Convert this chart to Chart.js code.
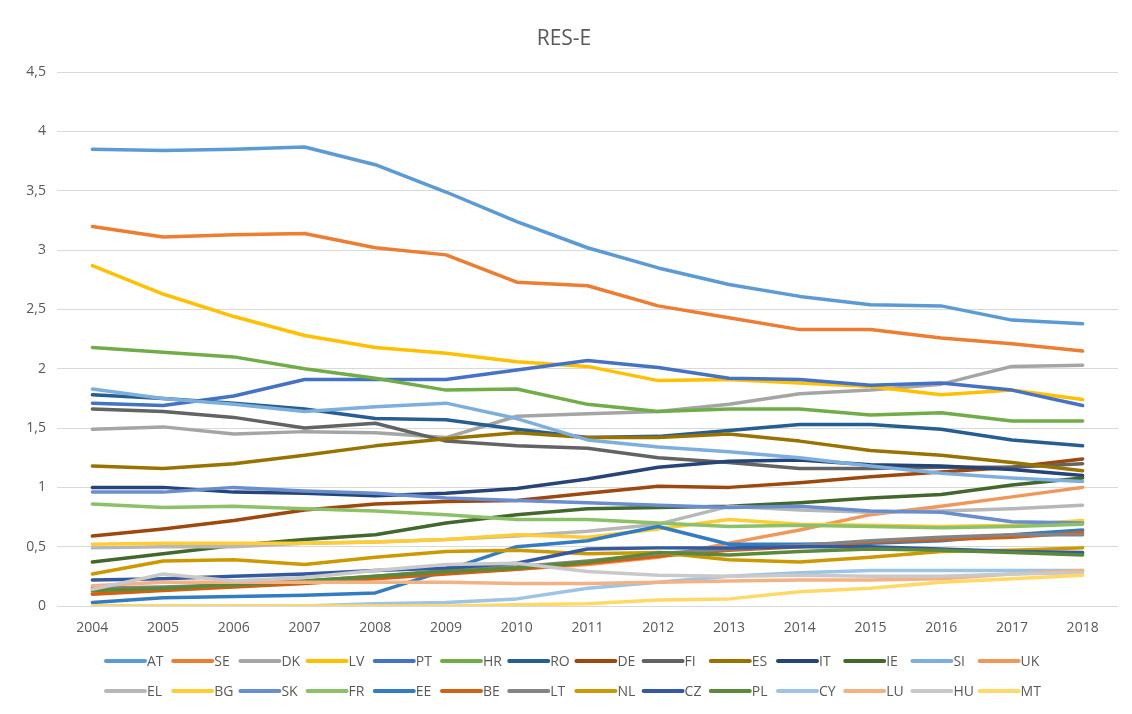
<!DOCTYPE html>
<html>
<head>
<meta charset="utf-8">
<title>RES-E</title>
<script src="https://cdn.jsdelivr.net/npm/chart.js@4"></script>
<style>
    body { margin: 0; background: #ffffff; }
    #chartBox { width: 1132px; height: 714px; }
</style>
</head>
<body>
<div id="chartBox"><canvas id="resChart" width="1132" height="714"></canvas></div>
<script>
// Years on the x axis
const years = ['2004', '2005', '2006', '2007', '2008', '2009', '2010', '2011', '2012', '2013', '2014', '2015', '2016', '2017', '2018'];

// Y axis ticks
const yTicks = [0, 0.5, 1, 1.5, 2, 2.5, 3, 3.5, 4, 4.5];

// Series values, one array per country
const AT = [3.85, 3.84, 3.85, 3.87, 3.72, 3.49, 3.24, 3.02, 2.85, 2.71, 2.61, 2.54, 2.53, 2.41, 2.38];
const SE = [3.20, 3.11, 3.13, 3.14, 3.02, 2.96, 2.73, 2.70, 2.53, 2.43, 2.33, 2.33, 2.26, 2.21, 2.15];
const DK = [1.49, 1.51, 1.45, 1.47, 1.46, 1.42, 1.60, 1.62, 1.64, 1.70, 1.79, 1.82, 1.87, 2.02, 2.03];
const LV = [2.87, 2.63, 2.44, 2.28, 2.18, 2.13, 2.06, 2.02, 1.90, 1.91, 1.88, 1.85, 1.78, 1.82, 1.74];
const PT = [1.71, 1.69, 1.77, 1.91, 1.91, 1.91, 1.99, 2.07, 2.01, 1.92, 1.91, 1.86, 1.88, 1.82, 1.69];
const HR = [2.18, 2.14, 2.10, 2.00, 1.92, 1.82, 1.83, 1.70, 1.64, 1.66, 1.66, 1.61, 1.63, 1.56, 1.56];
const RO = [1.78, 1.75, 1.71, 1.66, 1.58, 1.57, 1.49, 1.42, 1.43, 1.48, 1.53, 1.53, 1.49, 1.40, 1.35];
const DE = [0.59, 0.65, 0.72, 0.81, 0.86, 0.88, 0.89, 0.95, 1.01, 1.00, 1.04, 1.09, 1.13, 1.17, 1.24];
const FI = [1.66, 1.64, 1.59, 1.50, 1.54, 1.39, 1.35, 1.33, 1.25, 1.21, 1.16, 1.16, 1.17, 1.17, 1.20];
const ES = [1.18, 1.16, 1.20, 1.27, 1.35, 1.41, 1.46, 1.42, 1.42, 1.45, 1.39, 1.31, 1.27, 1.21, 1.14];
const IT = [1.00, 1.00, 0.96, 0.95, 0.93, 0.95, 0.99, 1.07, 1.17, 1.22, 1.23, 1.19, 1.18, 1.15, 1.10];
const IE = [0.37, 0.44, 0.51, 0.56, 0.60, 0.70, 0.77, 0.82, 0.83, 0.84, 0.87, 0.91, 0.94, 1.02, 1.08];
const SI = [1.83, 1.75, 1.70, 1.64, 1.68, 1.71, 1.58, 1.40, 1.34, 1.30, 1.25, 1.18, 1.12, 1.08, 1.05];
const UK = [0.11, 0.14, 0.17, 0.20, 0.24, 0.28, 0.31, 0.35, 0.41, 0.53, 0.64, 0.77, 0.84, 0.92, 1.00];
const EL = [0.49, 0.50, 0.50, 0.53, 0.54, 0.56, 0.59, 0.63, 0.69, 0.84, 0.81, 0.79, 0.80, 0.82, 0.85];
const BG = [0.52, 0.53, 0.53, 0.53, 0.54, 0.56, 0.60, 0.58, 0.65, 0.73, 0.69, 0.68, 0.67, 0.68, 0.72];
const SK = [0.96, 0.96, 1.00, 0.97, 0.95, 0.91, 0.89, 0.87, 0.85, 0.83, 0.84, 0.80, 0.79, 0.71, 0.70];
const FR = [0.86, 0.83, 0.84, 0.82, 0.80, 0.77, 0.73, 0.73, 0.70, 0.67, 0.68, 0.67, 0.66, 0.67, 0.69];
const EE = [0.03, 0.07, 0.08, 0.09, 0.11, 0.30, 0.50, 0.55, 0.67, 0.52, 0.52, 0.53, 0.55, 0.60, 0.64];
const BE = [0.10, 0.13, 0.16, 0.19, 0.23, 0.27, 0.31, 0.36, 0.42, 0.47, 0.50, 0.54, 0.56, 0.58, 0.62];
const LT = [0.15, 0.16, 0.18, 0.21, 0.25, 0.30, 0.33, 0.38, 0.44, 0.48, 0.51, 0.55, 0.58, 0.60, 0.60];
const NL = [0.27, 0.38, 0.39, 0.35, 0.41, 0.46, 0.47, 0.44, 0.45, 0.39, 0.37, 0.41, 0.46, 0.47, 0.49];
const CZ = [0.22, 0.23, 0.25, 0.27, 0.30, 0.32, 0.36, 0.48, 0.49, 0.49, 0.50, 0.50, 0.48, 0.46, 0.45];
const PL = [0.13, 0.15, 0.18, 0.21, 0.25, 0.29, 0.32, 0.37, 0.45, 0.43, 0.46, 0.48, 0.47, 0.45, 0.43];
const CY = [0.00, 0.00, 0.00, 0.00, 0.02, 0.03, 0.06, 0.15, 0.20, 0.25, 0.28, 0.30, 0.30, 0.30, 0.30];
const LU = [0.17, 0.20, 0.20, 0.20, 0.20, 0.20, 0.19, 0.19, 0.20, 0.21, 0.22, 0.22, 0.23, 0.27, 0.30];
const HU = [0.14, 0.27, 0.21, 0.24, 0.30, 0.35, 0.36, 0.29, 0.26, 0.25, 0.26, 0.25, 0.25, 0.27, 0.28];
const MT = [0.00, 0.00, 0.00, 0.00, 0.00, 0.00, 0.01, 0.02, 0.05, 0.06, 0.12, 0.15, 0.20, 0.23, 0.26];

// Series names in legend order, and the values that go with them
const countries = ['AT', 'SE', 'DK', 'LV', 'PT', 'HR', 'RO', 'DE', 'FI', 'ES', 'IT', 'IE', 'SI', 'UK',
                   'EL', 'BG', 'SK', 'FR', 'EE', 'BE', 'LT', 'NL', 'CZ', 'PL', 'CY', 'LU', 'HU', 'MT'];
const values = [AT, SE, DK, LV, PT, HR, RO, DE, FI, ES, IT, IE, SI, UK,
                EL, BG, SK, FR, EE, BE, LT, NL, CZ, PL, CY, LU, HU, MT];

// Office palette, same order as countries
const colors = ['#5B9BD5', '#ED7D31', '#A5A5A5', '#FFC000', '#4472C4', '#70AD47', '#255E91', '#9E480E',
                '#636363', '#997300', '#264478', '#43682B', '#7CAFDD', '#F1975A', '#B7B7B7', '#FFCD33',
                '#698ED0', '#8CC168', '#327DC2', '#D26012', '#848484', '#CC9A00', '#335AA1', '#5A8A39',
                '#9DC3E6', '#F4B183', '#C9C9C9', '#FFD966'];

const textColor = '#595959';
const fontFamily = '"Open Sans", "Liberation Sans", sans-serif';

// Legend in two rows of 14, like the Excel one
const rowLegend = {
    id: 'rowLegend',
    afterDraw(chart) {
        const ctx = chart.ctx;
        ctx.save();
        ctx.font = '14px ' + fontFamily;
        ctx.textBaseline = 'middle';
        ctx.lineCap = 'round';
        ctx.lineWidth = 4;
        chart.data.datasets.forEach((ds, i) => {
            const x = 106 + (i % 14) * 67.2;
            const y = 661 + Math.floor(i / 14) * 30;
            ctx.strokeStyle = ds.borderColor;
            ctx.beginPath();
            ctx.moveTo(x, y);
            ctx.lineTo(x + 39, y);
            ctx.stroke();
            ctx.fillStyle = textColor;
            ctx.fillText(ds.label, x + 41, y + 1);
        });
        ctx.restore();
    }
};

document.addEventListener('DOMContentLoaded', function() {
    const datasets = countries.map((name, i) => ({
        label: name,
        data: values[i],
        borderColor: colors[i],
        backgroundColor: colors[i],
        borderWidth: 3.5,
        borderCapStyle: 'round',
        borderJoinStyle: 'round',
        pointRadius: 0,
        tension: 0,
        order: countries.length - i   // later series drawn on top
    }));

    new Chart(document.getElementById('resChart'), {
        type: 'line',
        data: { labels: years, datasets: datasets },
        options: {
            responsive: false,
            animation: false,
            layout: { padding: { left: 10, right: 14, top: 0, bottom: 68 } },
            plugins: {
                legend: { display: false },
                tooltip: { enabled: false },
                title: {
                    display: true,
                    text: 'RES-E',
                    color: textColor,
                    font: { family: fontFamily, size: 21, weight: 'normal' },
                    padding: { top: 26, bottom: 21 }
                }
            },
            scales: {
                x: {
                    offset: true,
                    grid: { display: false, drawTicks: false },
                    border: { display: false },
                    ticks: { color: textColor, font: { family: fontFamily, size: 14 }, padding: 14, maxRotation: 0 },
                    afterFit(scale) { scale.height = 40; }
                },
                y: {
                    min: 0,
                    max: 4.5,
                    afterBuildTicks(scale) { scale.ticks = yTicks.map(v => ({ value: v })); },
                    grid: { color: '#D9D9D9', lineWidth: 1, drawTicks: false },
                    border: { display: false },
                    ticks: {
                        color: textColor,
                        font: { family: fontFamily, size: 14 },
                        padding: 11,
                        callback: value => String(value).replace('.', ',')
                    },
                    afterFit(scale) { scale.width = 47; }
                }
            }
        },
        plugins: [rowLegend]
    });
});
</script>
</body>
</html>
